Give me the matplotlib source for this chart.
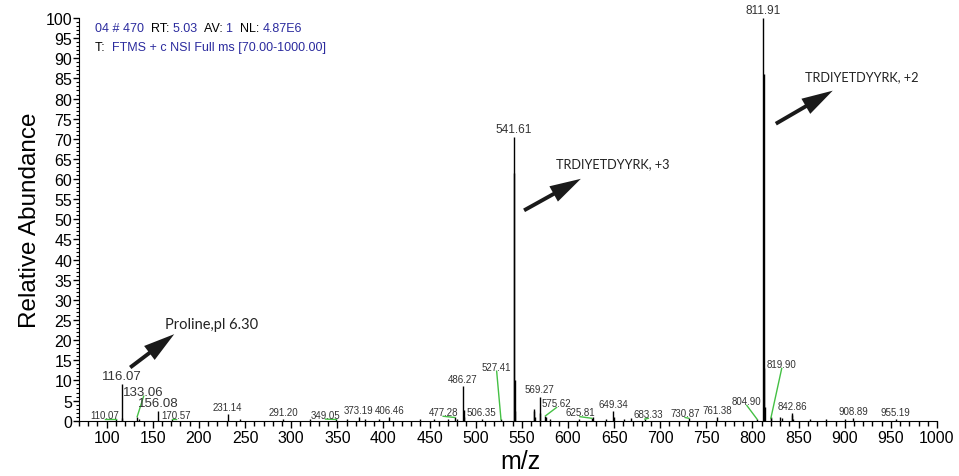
import matplotlib
matplotlib.use('Agg')
import matplotlib.pyplot as plt
from matplotlib.ticker import MultipleLocator
from matplotlib.patches import FancyArrowPatch

plt.rcParams['font.family'] = ['Liberation Sans', 'DejaVu Sans']

# labelled peaks (m/z, relative abundance)
label_mz = [110.07, 116.07, 133.06, 156.08, 170.57, 231.14, 291.20, 349.05, 373.19,
            406.46, 477.28, 486.27, 506.35, 527.41, 541.61, 569.27, 575.62, 625.81,
            649.34, 683.33, 730.87, 761.38, 804.90, 811.91, 819.90, 842.86, 908.89, 955.19]
label_int = [0.4, 9.1, 1.0, 2.5, 0.3, 1.7, 0.3, 0.3, 1.0,
             0.8, 0.8, 8.5, 0.5, 0.3, 70.5, 6.0, 1.2, 0.6,
             2.5, 0.4, 0.6, 1.0, 0.4, 100.0, 0.6, 2.0, 0.7, 0.4]

# unlabelled peaks (isotopes and noise)
minor_mz = [117.07, 135.0, 245.0, 320.0, 360.0, 380.0, 395.0, 440.0, 455.0, 470.0, 480.0,
            486.77, 487.27, 541.95, 542.28, 542.62, 562.9, 563.4, 563.9, 569.77, 576.3,
            581.0, 612.0, 627.0, 641.0, 650.3, 661.0, 668.0, 812.41, 812.91, 813.41,
            820.4, 830.0, 832.0, 843.36, 844.0, 862.0, 880.0, 900.0]
minor_int = [0.6, 0.3, 0.4, 0.3, 0.5, 0.5, 0.4, 0.3, 0.4, 0.3, 0.3,
             2.6, 0.8, 61.5, 10.2, 2.5, 2.8, 2.4, 1.0, 1.8, 0.8,
             0.4, 0.3, 0.8, 0.3, 0.8, 0.5, 0.7, 86.0, 13.0, 3.5,
             0.8, 1.0, 0.6, 1.5, 0.5, 0.5, 0.3, 0.3]

# labels moved aside with a green leader: text anchor (m/z, abundance)
leader_pos = {
    110.07: (97.8, 0.7), 133.06: (140.1, 6.4), 170.57: (175.6, 0.6),
    349.05: (337.2, 0.7), 477.28: (464.7, 1.4), 527.41: (522.7, 12.6),
    575.62: (587.7, 3.6), 625.81: (613.0, 1.3), 683.33: (687.1, 0.9),
    730.87: (726.9, 1.1), 804.90: (793.8, 4.1), 819.90: (831.7, 13.3),
}
big_labels = {116.07: 9.5, 133.06: 9.5, 156.08: 9.5, 541.61: 8.5, 811.91: 8.5}

annotations = [
    ('Proline,pl 6.30', (123.1, 12.8), (175.6, 21.9), (162.9, 24.0), 10.5),
    ('TRDIYETDYYRK, +3', (549.8, 51.9), (616.6, 60.4), (587.0, 63.9), 9.2),
    ('TRDIYETDYYRK, +2', (822.7, 73.4), (889.6, 82.3), (857.0, 85.5), 9.2),
]

W, H = 959, 477
fig = plt.figure(figsize=(W / 100, H / 100), dpi=100)
ax = fig.add_axes([79 / W, 1 - 421.7 / H, (937 - 79) / W, (421.7 - 19) / H])

ax.vlines(minor_mz, 0, minor_int, color='black', lw=1)
ax.vlines(label_mz, 0, label_int, color='black', lw=1)

for mz, h in zip(label_mz, label_int):
    fs = big_labels.get(mz, 7)
    txt = f'{mz:.2f}'
    if mz in leader_pos:
        tx, ty = leader_pos[mz]
        ax.text(tx, ty, txt, fontsize=fs, ha='center', va='baseline', color='#333333')
        ax.plot([tx, mz], [ty - 0.3, h], color='#44c044', lw=1)
    else:
        ax.annotate(txt, (mz, h), xytext=(0, 1.5), textcoords='offset points',
                    fontsize=fs, ha='center', va='bottom', color='#333333',
                    annotation_clip=False)

for text, tail, head, tpos, fs in annotations:
    ax.add_patch(FancyArrowPatch(tail, head,
                                 arrowstyle='simple,head_length=1.6,head_width=0.9,tail_width=0.2',
                                 mutation_scale=14, color='#1a1a1a', lw=0))
    ax.text(tpos[0], tpos[1], text, fontsize=fs, ha='left', va='center',
            family=['Lato', 'DejaVu Sans'], color='#222222')

ax.set_xlim(70, 1000)
ax.set_ylim(0, 100)
ax.spines['top'].set_visible(False)
ax.spines['right'].set_visible(False)
ax.xaxis.set_major_locator(MultipleLocator(50))
ax.xaxis.set_minor_locator(MultipleLocator(10))
ax.yaxis.set_major_locator(MultipleLocator(5))
ax.yaxis.set_minor_locator(MultipleLocator(1))
ax.tick_params(axis='x', which='major', length=5, width=1, labelsize=11.5, pad=2)
ax.tick_params(axis='x', which='minor', length=3.5, width=1)
ax.tick_params(axis='y', which='major', length=4, width=1, labelsize=11.5, pad=1)
ax.tick_params(axis='y', which='minor', length=2.5, width=0.8)
ax.set_xticks([100, 150, 200, 250, 300, 350, 400, 450, 500, 550, 600, 650, 700,
               750, 800, 850, 900, 950, 1000])

fig.text(30 / W, 1 - 220 / H, 'Relative Abundance', rotation=90, fontsize=17.5,
         ha='center', va='center')
fig.text(520 / W, 1 - 462 / H, 'm/z', fontsize=18, ha='center', va='center')

# header: mixed black and blue pieces
blue = '#2b2b9e'
renderer = fig.canvas.get_renderer()


def header(pieces, x, y):
    for s, c in pieces:
        t = fig.text(x / W, 1 - y / H, s, fontsize=9, color=c, va='center', ha='left')
        x += t.get_window_extent(renderer).width


header([('04 # 470  ', blue), ('RT: ', 'black'), ('5.03  ', blue), ('AV: ', 'black'),
        ('1  ', blue), ('NL: ', 'black'), ('4.87E6', blue)], 95, 29)
header([('T:  ', 'black'), ('FTMS + c NSI Full ms [70.00-1000.00]', blue)], 95, 48)

fig.savefig('out.png', dpi=100)
